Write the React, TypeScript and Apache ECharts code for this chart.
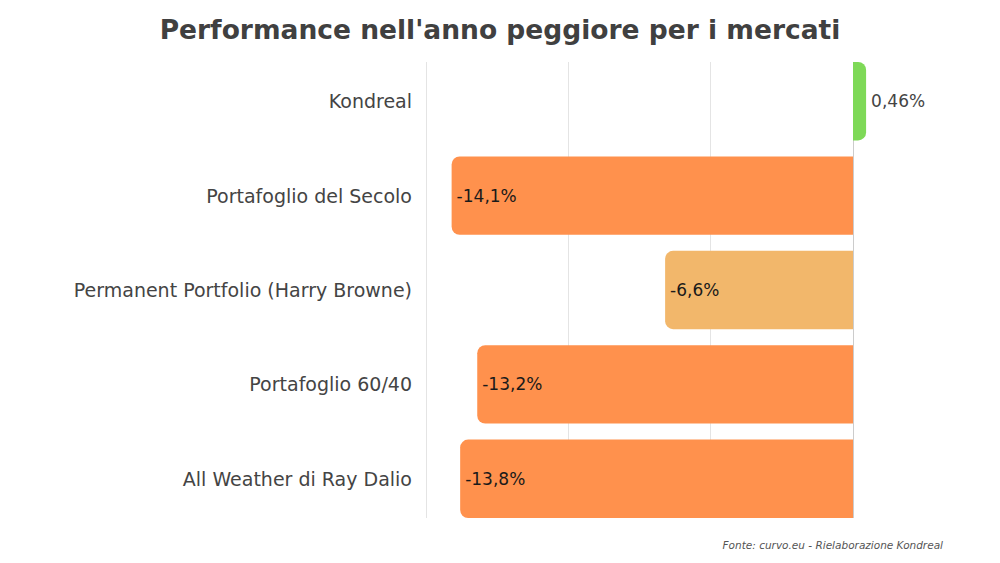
import React, { useEffect, useRef } from 'react';
import * as echarts from 'echarts';

const categories = [
  'Kondreal',
  'Portafoglio del Secolo',
  'Permanent Portfolio (Harry Browne)',
  'Portafoglio 60/40',
  'All Weather di Ray Dalio',
];
const values = [0.46, -14.1, -6.6, -13.2, -13.8];
const barColors = ['#7ed957', '#ff914d', '#f2b76b', '#ff914d', '#ff914d'];

const FONT = '"DejaVu Sans", sans-serif';

export default function App() {
  const chartRef = useRef<HTMLDivElement>(null);

  useEffect(() => {
    if (!chartRef.current) return;
    const chart = echarts.init(chartRef.current, null, { renderer: 'svg' });

    const fmt = (v: number) => String(v).replace('.', ',') + '%';

    const option = {
      animation: false,
      backgroundColor: '#ffffff',
      title: {
        text: "Performance nell'anno peggiore per i mercati",
        left: 'center',
        top: 11,
        textStyle: { fontFamily: FONT, fontSize: 26.5, fontWeight: 'bold', color: '#404040' },
      },
      grid: [
        { left: 426, right: 147, top: 54, bottom: 37 },
        // only the vertical guide lines, which run from the first bar to the last
        { left: 426, right: 147, top: 62, bottom: 45 },
      ],
      xAxis: [
        { type: 'value', gridIndex: 0, min: -15, max: 0, interval: 5, show: false },
        {
          type: 'value',
          gridIndex: 1,
          min: -15,
          max: 0,
          interval: 5,
          axisLine: { show: false },
          axisTick: { show: false },
          axisLabel: { show: false },
          splitLine: {
            show: true,
            lineStyle: { color: ['#e4e4e4', '#e4e4e4', '#e4e4e4', '#cccccc'], width: 1 },
          },
        },
      ],
      yAxis: [
        {
          type: 'category',
          gridIndex: 0,
          inverse: true,
          data: categories,
          axisLine: { show: false },
          axisTick: { show: false },
          axisLabel: { fontFamily: FONT, fontSize: 19, color: '#444444', margin: 14 },
        },
        { type: 'value', gridIndex: 1, show: false },
      ],
      series: [
        {
          type: 'bar',
          xAxisIndex: 0,
          yAxisIndex: 0,
          barCategoryGap: '17%',
          clip: false,
          data: values.map((v, i) => ({
            value: v,
            itemStyle: {
              color: barColors[i],
              borderRadius: v < 0 ? [8, 0, 0, 8] : [0, 8, 8, 0],
            },
            label: {
              show: true,
              position: v < 0 ? 'insideLeft' : 'right',
              distance: 5,
              color: v < 0 ? '#1a1a1a' : '#444444',
              fontFamily: FONT,
              fontSize: 17,
              formatter: () => fmt(v),
            },
          })),
        },
      ],
      graphic: [
        {
          type: 'text',
          right: 57,
          top: 539,
          style: {
            text: 'Fonte: curvo.eu - Rielaborazione Kondreal',
            fontFamily: FONT,
            fontStyle: 'italic',
            fontSize: 10.5,
            fill: '#555555',
          },
        },
      ],
    };

    chart.setOption(option);
    return () => chart.dispose();
  }, []);

  return <div ref={chartRef} style={{ width: 1000, height: 563, margin: -8 }} />;
}
